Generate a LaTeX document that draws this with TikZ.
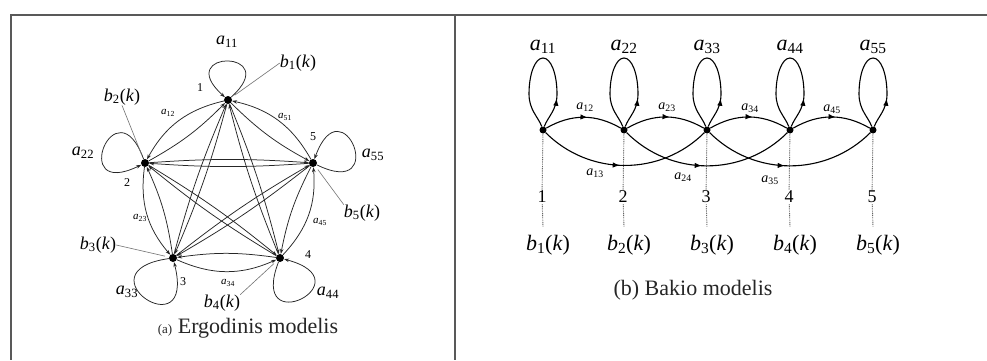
\documentclass[tikz,border=0pt]{standalone}
\usepackage{fontspec}
\setmainfont{Liberation Serif}
\usetikzlibrary{arrows.meta,decorations.markings}
\newcommand{\lbl}[2]{\textit{#1}\textsubscript{#2}}
\newcommand{\blbl}[1]{\textit{b}\textsubscript{#1}(\textit{k})}
\begin{document}
\begin{tikzpicture}[x=1pt,y=1pt,
 frameline/.style={draw=gray!70!black, line width=1.5pt},
 lnode/.style={circle, fill=black, inner sep=0pt, minimum size=8pt},
 ledge/.style={draw=black!85, line width=0.75pt, -{Stealth[length=5pt,width=3.5pt]}},
 leader/.style={draw=black!55, line width=0.6pt, shorten >=4pt},
 bigl/.style={font=\fontsize{18}{20}\selectfont, inner sep=0pt},
 smalll/.style={font=\fontsize{11}{13}\selectfont, inner sep=0pt},
 numl/.style={font=\fontsize{12}{14}\selectfont, inner sep=0pt},
 rnode/.style={circle, fill=black, inner sep=0pt, minimum size=7pt},
 redge/.style={draw=black, line width=1.1pt, postaction={decorate},
   decoration={markings, mark=at position #1 with {\arrow{Latex[length=7pt,width=5.5pt]}}}},
 redge/.default=0.5,
 dotl/.style={draw=black!60, line width=0.9pt, dash pattern=on 0.9pt off 0.9pt},
 rlab/.style={font=\fontsize{22}{24}\selectfont, inner sep=0pt},
 rsmall/.style={font=\fontsize{14}{16}\selectfont, inner sep=0pt},
 rnum/.style={font=\fontsize{18}{20}\selectfont, inner sep=1pt},
 captxt/.style={font=\fontsize{22}{24}\selectfont, text=black!85, inner sep=0pt}
]
\useasboundingbox (0,0) rectangle (987,360);
\fill[white] (0,0) rectangle (987,360);
% frame
\draw[frameline] (10,345) -- (987,345);
\draw[frameline] (11,345) -- (11,0);
\draw[frameline] (455,345) -- (455,0);

% ---------- left: ergodic model ----------
\node[lnode] (n1) at (228,260) {};
\node[lnode] (n2) at (145,197) {};
\node[lnode] (n3) at (173,102) {};
\node[lnode] (n4) at (280,102) {};
\node[lnode] (n5) at (313,197) {};
\foreach \i/\j in {1/2,2/3,3/4,4/5,5/1} {
  \draw[ledge] (n\i) to[bend right=24] (n\j);
  \draw[ledge] (n\j) to[bend right=8] (n\i);
}
\foreach \i/\j in {1/3,1/4,2/4,2/5,3/5} {
  \draw[ledge] (n\i) to[bend left=4] (n\j);
  \draw[ledge] (n\j) to[bend left=4] (n\i);
}
\draw[ledge] (n1) .. controls +(42:76) and +(138:76) .. (n1);
\draw[ledge] (n2) .. controls +(110:86) and +(206:86) .. (n2);
\draw[ledge] (n5) .. controls +(-26:86) and +(70:86) .. (n5);
\draw[ledge] (n3) .. controls +(188:96) and +(284:96) .. (n3);
\draw[ledge] (n4) .. controls +(249:90) and +(345:90) .. (n4);

\node[bigl] (la11) at (227,318) {\lbl{a}{11}};
\node[bigl] (lb1) at (298,297) {\blbl{1}};
\node[numl] (l1) at (200,272) {1};
\node[bigl] (lb2) at (122,263) {\blbl{2}};
\node[bigl] (la22) at (83,207) {\lbl{a}{22}};
\node[numl] (l2) at (127,177) {2};
\node[smalll] (la12) at (168,247) {\lbl{a}{12}};
\node[smalll] (la51) at (285,243) {\lbl{a}{51}};
\node[numl] (l5) at (313,223) {5};
\node[bigl] (la55) at (373,205) {\lbl{a}{55}};
\node[bigl] (lb5) at (362,147) {\blbl{5}};
\node[smalll] (la45) at (320,138) {\lbl{a}{45}};
\node[smalll] (la23) at (140,142) {\lbl{a}{23}};
\node[bigl] (lb3) at (98,115) {\blbl{3}};
\node[bigl] (la33) at (127,68) {\lbl{a}{33}};
\node[numl] (l3) at (183,78) {3};
\node[smalll] (la34) at (228,77) {\lbl{a}{34}};
\node[bigl] (lb4) at (222,57) {\blbl{4}};
\node[numl] (l4) at (308,105) {4};
\node[bigl] (la44) at (328,67) {\lbl{a}{44}};
\draw[leader] (lb1.west) -- (n1);
\draw[leader] (lb2.south) -- (n2);
\draw[leader] (lb5.north west) -- (n5);
\draw[leader] (lb3.east) -- (n3);
\draw[leader] (lb4.north east) -- (n4);
\node[captxt] (capa) at (248,32) {{\fontsize{13}{15}\selectfont(a)} Ergodinis modelis};

% ---------- right: Bakis model ----------
\foreach \k/\x in {1/543,2/624,3/707,4/790,5/873} {
  \node[rnode] (r\k) at (\x,230) {};
  \coordinate (lr\k) at (\x+14,266);
  \coordinate (lt\k) at (\x,302);
  \coordinate (ll\k) at (\x-14,266);
  \draw[redge=0.2] (r\k) .. controls +(70:14) and +(0,-16) .. (lr\k)
     .. controls +(0,20) and +(8,0) .. (lt\k)
     .. controls +(-8,0) and +(0,20) .. (ll\k)
     .. controls +(0,-16) and +(110:14) .. (r\k);
  \node[rlab] (ra\k) at (\x,313) {\lbl{a}{\k\k}};
  \node[rnum] (rn\k) at (\x-1,163) {\k};
  \coordinate (rd\k) at (\x,133);
  \node[rlab] (rb\k) at (\x+5,115) {\blbl{\k}};
  \draw[dotl] (r\k) -- (rn\k);
  \draw[dotl] (rn\k) -- (rd\k);
}
\foreach \i/\j in {1/2,2/3,3/4,4/5}
  \draw[redge=0.55] (r\i) to[out=30,in=150] (r\j);
\foreach \i/\j in {1/3,2/4,3/5}
  \draw[redge=0.47] (r\i) to[out=-45,in=-135] (r\j);
\node[rsmall] (ra12) at (585,253) {\lbl{a}{12}};
\node[rsmall] (ra23) at (667,253) {\lbl{a}{23}};
\node[rsmall] (ra34) at (750,252) {\lbl{a}{34}};
\node[rsmall] (ra45) at (832,251) {\lbl{a}{45}};
\node[rsmall] (ra13) at (595,187) {\lbl{a}{13}};
\node[rsmall] (ra24) at (683,183) {\lbl{a}{24}};
\node[rsmall] (ra35) at (770,180) {\lbl{a}{35}};
\node[captxt] (capb) at (693,70) {(b) Bakio modelis};
\end{tikzpicture}
\end{document}
